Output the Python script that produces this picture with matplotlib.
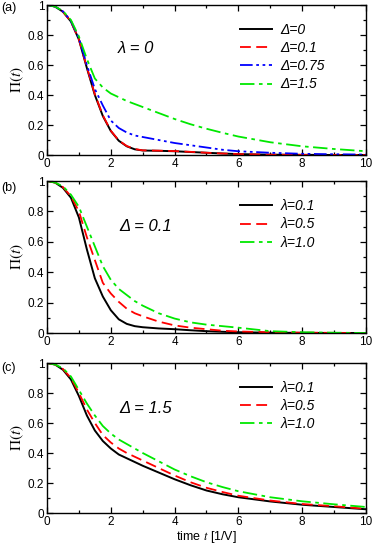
import matplotlib
matplotlib.use('Agg')
import matplotlib.pyplot as plt

plt.rcParams['font.family'] = ['Liberation Sans', 'DejaVu Sans']
plt.rcParams['mathtext.fontset'] = 'stix'

# time grid shared by all curves
t = [0, 0.25, 0.5, 0.75, 1, 1.25, 1.5, 1.75, 2, 2.25, 2.5, 2.75, 3, 3.5, 4, 4.5, 5, 5.5, 6, 7, 8, 9, 10]

# (a) lambda = 0
a_d0 = [1, 0.99, 0.955, 0.89, 0.77, 0.58, 0.40, 0.26, 0.16, 0.095, 0.058, 0.038, 0.03, 0.028, 0.025, 0.02, 0.015, 0.01, 0.006, 0.002, 0.001, 0, 0]
a_d01 = [1, 0.99, 0.955, 0.89, 0.77, 0.585, 0.405, 0.265, 0.162, 0.097, 0.06, 0.04, 0.031, 0.029, 0.026, 0.021, 0.015, 0.01, 0.006, 0.002, 0.001, 0, 0]
a_d075 = [1, 0.99, 0.957, 0.895, 0.78, 0.6, 0.44, 0.33, 0.23, 0.18, 0.15, 0.13, 0.12, 0.1, 0.08, 0.065, 0.05, 0.035, 0.025, 0.015, 0.008, 0.005, 0.003]
a_d15 = [1, 0.99, 0.96, 0.9, 0.79, 0.64, 0.51, 0.45, 0.41, 0.385, 0.36, 0.34, 0.32, 0.28, 0.24, 0.205, 0.175, 0.148, 0.123, 0.085, 0.058, 0.04, 0.025]

# (b) Delta = 0.1
b_l01 = [1, 0.99, 0.955, 0.89, 0.76, 0.55, 0.36, 0.24, 0.15, 0.09, 0.06, 0.045, 0.038, 0.03, 0.025, 0.018, 0.012, 0.008, 0.005, 0.002, 0.001, 0, 0]
b_l05 = [1, 0.99, 0.96, 0.9, 0.8, 0.63, 0.48, 0.33, 0.26, 0.205, 0.16, 0.13, 0.11, 0.075, 0.05, 0.035, 0.025, 0.015, 0.01, 0.005, 0.002, 0.001, 0]
b_l10 = [1, 0.99, 0.965, 0.91, 0.83, 0.7, 0.57, 0.44, 0.35, 0.29, 0.25, 0.21, 0.18, 0.13, 0.095, 0.07, 0.055, 0.045, 0.035, 0.012, 0.005, 0.002, 0]

# (c) Delta = 1.5
c_l01 = [1, 0.99, 0.955, 0.89, 0.78, 0.65, 0.55, 0.48, 0.43, 0.39, 0.365, 0.34, 0.315, 0.27, 0.225, 0.185, 0.15, 0.125, 0.105, 0.077, 0.055, 0.04, 0.025]
c_l05 = [1, 0.99, 0.96, 0.9, 0.8, 0.69, 0.6, 0.52, 0.47, 0.43, 0.40, 0.375, 0.35, 0.3, 0.25, 0.205, 0.168, 0.14, 0.115, 0.083, 0.06, 0.045, 0.028]
c_l10 = [1, 0.99, 0.965, 0.91, 0.82, 0.73, 0.65, 0.58, 0.53, 0.49, 0.46, 0.43, 0.40, 0.345, 0.29, 0.245, 0.205, 0.173, 0.145, 0.105, 0.078, 0.058, 0.04]

xticks = [0, 2, 4, 6, 8, 10]
yticks = [0, 0.2, 0.4, 0.6, 0.8, 1]
ytick_labels = ['0', '0.2', '0.4', '0.6', '0.8', '1']

black = dict(color='black', lw=1.4, ls='-')
red = dict(color='#ff0000', lw=1.3, ls=(0, (6, 3)))
blue = dict(color='#0000ff', lw=1.3, ls=(0, (7, 2, 1.5, 2, 1.5, 2)))
green = dict(color='#00e800', lw=1.3, ls=(0, (8, 2.5, 2, 2.5)))

fig = plt.figure(figsize=(3.74, 5.45), dpi=100)

boxes = [(47/374, 1-155/545, 319/374, 150/545),
         (47/374, 1-333/545, 319/374, 152/545),
         (47/374, 1-513/545, 319/374, 150/545)]
axs = [fig.add_axes(b) for b in boxes]


def style(ax):
    ax.set_xlim(0, 10)
    ax.set_ylim(0, 1)
    ax.set_xticks(xticks)
    ax.set_xticks([1, 3, 5, 7, 9], minor=True)
    ax.set_yticks(yticks)
    ax.set_yticklabels(ytick_labels)
    ax.set_yticks([0.1, 0.3, 0.5, 0.7, 0.9], minor=True)
    ax.tick_params(which='both', direction='in', top=True, right=True, labelsize=8.5, pad=2)
    ax.tick_params(which='major', length=4, width=0.9)
    ax.tick_params(which='minor', length=2.3, width=0.9)
    for s in ax.spines.values():
        s.set_linewidth(1.0)
    ax.set_ylabel(r'$\Pi(t)$', fontsize=11, labelpad=1)


ax = axs[0]
ax.plot(t, a_d0, label='Δ=0', **black)
ax.plot(t, a_d01, label='Δ=0.1', **red)
ax.plot(t, a_d075, label='Δ=0.75', **blue)
ax.plot(t, a_d15, label='Δ=1.5', **green)
ax.text(2.8, 0.71, 'λ = 0', fontsize=12, style='italic', ha='center', va='center')

ax = axs[1]
ax.plot(t, b_l01, label='λ=0.1', **black)
ax.plot(t, b_l05, label='λ=0.5', **red)
ax.plot(t, b_l10, label='λ=1.0', **green)
ax.text(3.1, 0.70, 'Δ = 0.1', fontsize=12, style='italic', ha='center', va='center')

ax = axs[2]
ax.plot(t, c_l01, label='λ=0.1', **black)
ax.plot(t, c_l05, label='λ=0.5', **red)
ax.plot(t, c_l10, label='λ=1.0', **green)
ax.text(3.1, 0.695, 'Δ = 1.5', fontsize=12, style='italic', ha='center', va='center')
ax.set_xlabel(r'time $\mathit{t}$ [1/V]', fontsize=9, labelpad=1)

for ax in axs:
    style(ax)
    ax.legend(loc='upper left', bbox_to_anchor=(0.605, 0.88), frameon=False,
              handlelength=2.3, handletextpad=0.6, labelspacing=0.3,
              borderaxespad=0, borderpad=0,
              prop={'size': 10, 'style': 'italic'})

for lab, y in zip(['(a)', '(b)', '(c)'], [8, 188, 368]):
    fig.text(0.003, 1 - y/545, lab, fontsize=9, va='center', ha='left')

fig.savefig('out.png', dpi=100)
